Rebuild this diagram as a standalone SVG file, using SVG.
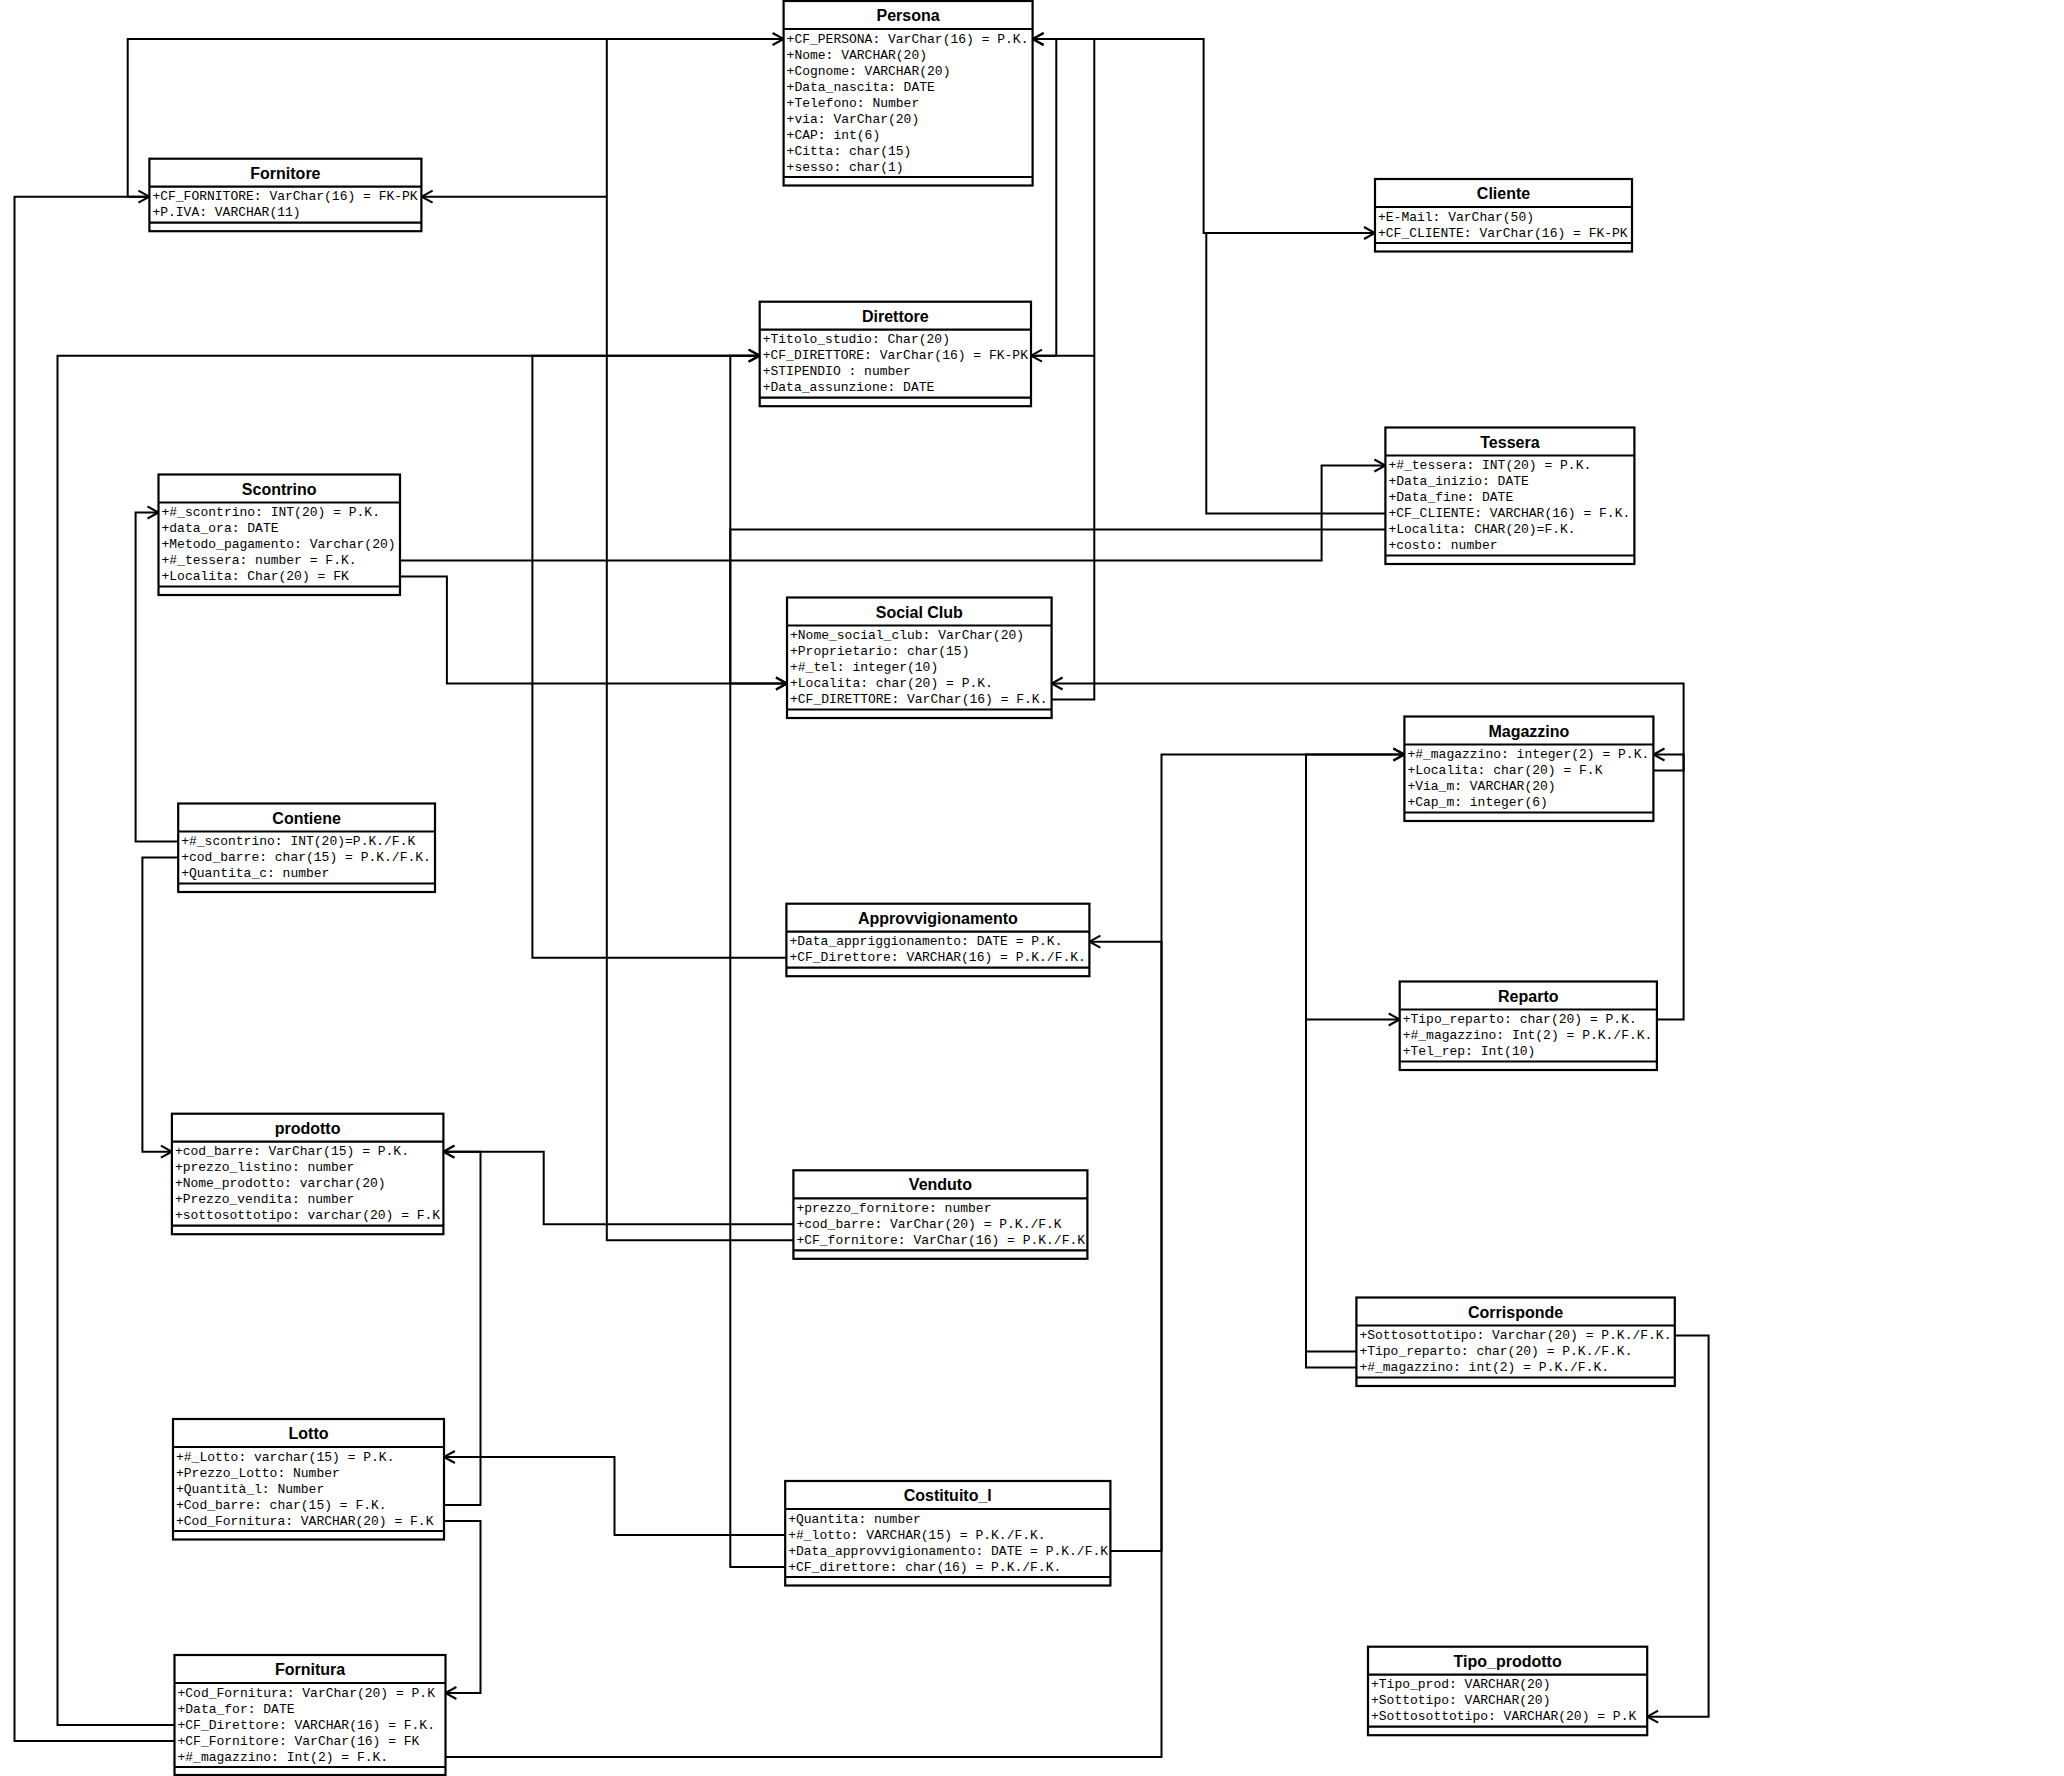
<svg xmlns="http://www.w3.org/2000/svg" width="2064" height="1776" viewBox="0 0 2064 1776">
<style>
.bg{fill:#fff}
.box{fill:#fff;stroke:#000;stroke-width:2.2}
.sep{stroke:#000;stroke-width:2.2}
.t{font-family:"Liberation Sans",Arial,sans-serif;font-weight:bold;font-size:16px;text-anchor:middle;dominant-baseline:central;fill:#000}
.a{font-family:"Liberation Mono","Courier New",monospace;font-size:13px;dominant-baseline:central;fill:#000}
.c{fill:none;stroke:#000;stroke-width:2}
</style>
<defs>
<marker id="arr" markerUnits="userSpaceOnUse" markerWidth="14" markerHeight="14" refX="11" refY="6" orient="auto" overflow="visible">
<path d="M0,0 L11,6 L0,12" fill="none" stroke="#000" stroke-width="2"/>
</marker>
</defs>
<rect class="bg" x="0" y="0" width="2064" height="1776"/>

<g id="connectors">
<path class="c" d="M149.4,196.7 H127.7 V39 H783.6" marker-end="url(#arr)"/>
<path class="c" d="M174.5,1741 H14.5 V196.7 H149.4" marker-end="url(#arr)"/>
<path class="c" d="M793.4,1240.3 H606.8 V196.7 H421.6" marker-end="url(#arr)"/>
<path class="c" d="M606.8,196.7 V39"/>
<path class="c" d="M174.5,1725 H57.5 V355.7 H759.7" marker-end="url(#arr)"/>
<path class="c" d="M786.4,957.7 H532.4 V355.7 H759.7" marker-end="url(#arr)"/>
<path class="c" d="M785.2,1567 H730.3 V355.7 H759.7" marker-end="url(#arr)"/>
<path class="c" d="M1385.4,529.5 H730.3 V683.5 H787" marker-end="url(#arr)"/>
<path class="c" d="M400,576.5 H446.9 V683.5 H787" marker-end="url(#arr)"/>
<path class="c" d="M400,560.5 H1321.6 V465.5 H1385.4" marker-end="url(#arr)"/>
<path class="c" d="M178.2,841.5 H135.6 V512.5 H158.5" marker-end="url(#arr)"/>
<path class="c" d="M178.2,857.5 H142.4 V1151.7 H171.9" marker-end="url(#arr)"/>
<path class="c" d="M793.4,1224.3 H543.7 V1151.7 H443.4" marker-end="url(#arr)"/>
<path class="c" d="M443.9,1505 H480.5 V1151.7 H443.4" marker-end="url(#arr)"/>
<path class="c" d="M443.9,1521 H480.5 V1693 H445.4" marker-end="url(#arr)"/>
<path class="c" d="M785.2,1535 H614.5 V1457 H443.9" marker-end="url(#arr)"/>
<path class="c" d="M1110.4,1551 H1161.5 V941.7 H1089.4" marker-end="url(#arr)"/>
<path class="c" d="M445.4,1757 H1161.5 V754.5 H1404.4" marker-end="url(#arr)"/>
<path class="c" d="M1356.4,1367.5 H1306 V754.5 H1404.4" marker-end="url(#arr)"/>
<path class="c" d="M1356.4,1351.5 H1306 V1019.5 H1399.7" marker-end="url(#arr)"/>
<path class="c" d="M1656.9,1019.5 H1683.6 V754.5 H1653.5" marker-end="url(#arr)"/>
<path class="c" d="M1653.5,770.5 H1683.6 V683.5 H1051.6" marker-end="url(#arr)"/>
<path class="c" d="M1674.8,1335.5 H1708.6 V1716.7 H1647.2" marker-end="url(#arr)"/>
<path class="c" d="M1051.6,699.5 H1094.3 V355.7 H1031" marker-end="url(#arr)"/>
<path class="c" d="M1094.3,355.7 V39 H1056.3"/>
<path class="c" d="M1031,355.7 H1056.3 V39 H1032.6" marker-end="url(#arr)"/>
<path class="c" d="M1375,233 H1203.6 V39 H1032.6" marker-end="url(#arr)"/>
<path class="c" d="M1385.4,513.5 H1206.3 V233 H1375" marker-end="url(#arr)"/>
</g>

<g id="persona" transform="translate(783.6,1)">
<rect class="box" width="249" height="184.5"/>
<line class="sep" x1="0" y1="28" x2="249" y2="28"/>
<line class="sep" x1="0" y1="176" x2="249" y2="176"/>
<text class="t" x="124.5" y="14.5">Persona</text>
<text class="a" x="3" y="38">+CF_PERSONA: VarChar(16) = P.K.</text>
<text class="a" x="3" y="54">+Nome: VARCHAR(20)</text>
<text class="a" x="3" y="70">+Cognome: VARCHAR(20)</text>
<text class="a" x="3" y="86">+Data_nascita: DATE</text>
<text class="a" x="3" y="102">+Telefono: Number</text>
<text class="a" x="3" y="118">+via: VarChar(20)</text>
<text class="a" x="3" y="134">+CAP: int(6)</text>
<text class="a" x="3" y="150">+Citta: char(15)</text>
<text class="a" x="3" y="166">+sesso: char(1)</text>
</g>

<g id="fornitore" transform="translate(149.4,158.7)">
<rect class="box" width="272" height="72.5"/>
<line class="sep" x1="0" y1="28" x2="272" y2="28"/>
<line class="sep" x1="0" y1="64" x2="272" y2="64"/>
<text class="t" x="136" y="14.5">Fornitore</text>
<text class="a" x="3" y="38">+CF_FORNITORE: VarChar(16) = FK-PK</text>
<text class="a" x="3" y="54">+P.IVA: VARCHAR(11)</text>
</g>

<g id="direttore" transform="translate(759.7,301.7)">
<rect class="box" width="271.3" height="104.5"/>
<line class="sep" x1="0" y1="28" x2="271.3" y2="28"/>
<line class="sep" x1="0" y1="96" x2="271.3" y2="96"/>
<text class="t" x="135.6" y="14.5">Direttore</text>
<text class="a" x="3" y="38">+Titolo_studio: Char(20)</text>
<text class="a" x="3" y="54">+CF_DIRETTORE: VarChar(16) = FK-PK</text>
<text class="a" x="3" y="70">+STIPENDIO : number</text>
<text class="a" x="3" y="86">+Data_assunzione: DATE</text>
</g>

<g id="cliente" transform="translate(1375,179)">
<rect class="box" width="257" height="72.5"/>
<line class="sep" x1="0" y1="28" x2="257" y2="28"/>
<line class="sep" x1="0" y1="64" x2="257" y2="64"/>
<text class="t" x="128.5" y="14.5">Cliente</text>
<text class="a" x="3" y="38">+E-Mail: VarChar(50)</text>
<text class="a" x="3" y="54">+CF_CLIENTE: VarChar(16) = FK-PK</text>
</g>

<g id="tessera" transform="translate(1385.4,427.5)">
<rect class="box" width="249" height="136.5"/>
<line class="sep" x1="0" y1="28" x2="249" y2="28"/>
<line class="sep" x1="0" y1="128" x2="249" y2="128"/>
<text class="t" x="124.5" y="14.5">Tessera</text>
<text class="a" x="3" y="38">+#_tessera: INT(20) = P.K.</text>
<text class="a" x="3" y="54">+Data_inizio: DATE</text>
<text class="a" x="3" y="70">+Data_fine: DATE</text>
<text class="a" x="3" y="86">+CF_CLIENTE: VARCHAR(16) = F.K.</text>
<text class="a" x="3" y="102">+Localita: CHAR(20)=F.K.</text>
<text class="a" x="3" y="118">+costo: number</text>
</g>

<g id="scontrino" transform="translate(158.5,474.5)">
<rect class="box" width="241.5" height="120.5"/>
<line class="sep" x1="0" y1="28" x2="241.5" y2="28"/>
<line class="sep" x1="0" y1="112" x2="241.5" y2="112"/>
<text class="t" x="120.7" y="14.5">Scontrino</text>
<text class="a" x="3" y="38">+#_scontrino: INT(20) = P.K.</text>
<text class="a" x="3" y="54">+data_ora: DATE</text>
<text class="a" x="3" y="70">+Metodo_pagamento: Varchar(20)</text>
<text class="a" x="3" y="86">+#_tessera: number = F.K.</text>
<text class="a" x="3" y="102">+Localita: Char(20) = FK</text>
</g>

<g id="social-club" transform="translate(787,597.5)">
<rect class="box" width="264.6" height="120.5"/>
<line class="sep" x1="0" y1="28" x2="264.6" y2="28"/>
<line class="sep" x1="0" y1="112" x2="264.6" y2="112"/>
<text class="t" x="132.3" y="14.5">Social Club</text>
<text class="a" x="3" y="38">+Nome_social_club: VarChar(20)</text>
<text class="a" x="3" y="54">+Proprietario: char(15)</text>
<text class="a" x="3" y="70">+#_tel: integer(10)</text>
<text class="a" x="3" y="86">+Localita: char(20) = P.K.</text>
<text class="a" x="3" y="102">+CF_DIRETTORE: VarChar(16) = F.K.</text>
</g>

<g id="magazzino" transform="translate(1404.4,716.5)">
<rect class="box" width="249" height="104.5"/>
<line class="sep" x1="0" y1="28" x2="249" y2="28"/>
<line class="sep" x1="0" y1="96" x2="249" y2="96"/>
<text class="t" x="124.5" y="14.5">Magazzino</text>
<text class="a" x="3" y="38">+#_magazzino: integer(2) = P.K.</text>
<text class="a" x="3" y="54">+Localita: char(20) = F.K</text>
<text class="a" x="3" y="70">+Via_m: VARCHAR(20)</text>
<text class="a" x="3" y="86">+Cap_m: integer(6)</text>
</g>

<g id="contiene" transform="translate(178.2,803.5)">
<rect class="box" width="256.8" height="88.5"/>
<line class="sep" x1="0" y1="28" x2="256.8" y2="28"/>
<line class="sep" x1="0" y1="80" x2="256.8" y2="80"/>
<text class="t" x="128.4" y="14.5">Contiene</text>
<text class="a" x="3" y="38">+#_scontrino: INT(20)=P.K./F.K</text>
<text class="a" x="3" y="54">+cod_barre: char(15) = P.K./F.K.</text>
<text class="a" x="3" y="70">+Quantita_c: number</text>
</g>

<g id="approvvigionamento" transform="translate(786.4,903.7)">
<rect class="box" width="303" height="72.5"/>
<line class="sep" x1="0" y1="28" x2="303" y2="28"/>
<line class="sep" x1="0" y1="64" x2="303" y2="64"/>
<text class="t" x="151.5" y="14.5">Approvvigionamento</text>
<text class="a" x="3" y="38">+Data_appriggionamento: DATE = P.K.</text>
<text class="a" x="3" y="54">+CF_Direttore: VARCHAR(16) = P.K./F.K.</text>
</g>

<g id="reparto" transform="translate(1399.7,981.5)">
<rect class="box" width="257.2" height="88.5"/>
<line class="sep" x1="0" y1="28" x2="257.2" y2="28"/>
<line class="sep" x1="0" y1="80" x2="257.2" y2="80"/>
<text class="t" x="128.6" y="14.5">Reparto</text>
<text class="a" x="3" y="38">+Tipo_reparto: char(20) = P.K.</text>
<text class="a" x="3" y="54">+#_magazzino: Int(2) = P.K./F.K.</text>
<text class="a" x="3" y="70">+Tel_rep: Int(10)</text>
</g>

<g id="prodotto" transform="translate(171.9,1113.7)">
<rect class="box" width="271.5" height="120.5"/>
<line class="sep" x1="0" y1="28" x2="271.5" y2="28"/>
<line class="sep" x1="0" y1="112" x2="271.5" y2="112"/>
<text class="t" x="135.7" y="14.5">prodotto</text>
<text class="a" x="3" y="38">+cod_barre: VarChar(15) = P.K.</text>
<text class="a" x="3" y="54">+prezzo_listino: number</text>
<text class="a" x="3" y="70">+Nome_prodotto: varchar(20)</text>
<text class="a" x="3" y="86">+Prezzo_vendita: number</text>
<text class="a" x="3" y="102">+sottosottotipo: varchar(20) = F.K</text>
</g>

<g id="venduto" transform="translate(793.4,1170.3)">
<rect class="box" width="294" height="88.5"/>
<line class="sep" x1="0" y1="28" x2="294" y2="28"/>
<line class="sep" x1="0" y1="80" x2="294" y2="80"/>
<text class="t" x="147" y="14.5">Venduto</text>
<text class="a" x="3" y="38">+prezzo_fornitore: number</text>
<text class="a" x="3" y="54">+cod_barre: VarChar(20) = P.K./F.K</text>
<text class="a" x="3" y="70">+CF_fornitore: VarChar(16) = P.K./F.K</text>
</g>

<g id="corrisponde" transform="translate(1356.4,1297.5)">
<rect class="box" width="318.4" height="88.5"/>
<line class="sep" x1="0" y1="28" x2="318.4" y2="28"/>
<line class="sep" x1="0" y1="80" x2="318.4" y2="80"/>
<text class="t" x="159.2" y="14.5">Corrisponde</text>
<text class="a" x="3" y="38">+Sottosottotipo: Varchar(20) = P.K./F.K.</text>
<text class="a" x="3" y="54">+Tipo_reparto: char(20) = P.K./F.K.</text>
<text class="a" x="3" y="70">+#_magazzino: int(2) = P.K./F.K.</text>
</g>

<g id="lotto" transform="translate(173,1419)">
<rect class="box" width="271" height="120.5"/>
<line class="sep" x1="0" y1="28" x2="271" y2="28"/>
<line class="sep" x1="0" y1="112" x2="271" y2="112"/>
<text class="t" x="135.5" y="14.5">Lotto</text>
<text class="a" x="3" y="38">+#_Lotto: varchar(15) = P.K.</text>
<text class="a" x="3" y="54">+Prezzo_Lotto: Number</text>
<text class="a" x="3" y="70">+Quantità_l: Number</text>
<text class="a" x="3" y="86">+Cod_barre: char(15) = F.K.</text>
<text class="a" x="3" y="102">+Cod_Fornitura: VARCHAR(20) = F.K</text>
</g>

<g id="costituito-l" transform="translate(785.2,1481)">
<rect class="box" width="325.2" height="104.5"/>
<line class="sep" x1="0" y1="28" x2="325.2" y2="28"/>
<line class="sep" x1="0" y1="96" x2="325.2" y2="96"/>
<text class="t" x="162.6" y="14.5">Costituito_l</text>
<text class="a" x="3" y="38">+Quantita: number</text>
<text class="a" x="3" y="54">+#_lotto: VARCHAR(15) = P.K./F.K.</text>
<text class="a" x="3" y="70">+Data_approvvigionamento: DATE = P.K./F.K</text>
<text class="a" x="3" y="86">+CF_direttore: char(16) = P.K./F.K.</text>
</g>

<g id="fornitura" transform="translate(174.5,1655)">
<rect class="box" width="271" height="120"/>
<line class="sep" x1="0" y1="28" x2="271" y2="28"/>
<line class="sep" x1="0" y1="112" x2="271" y2="112"/>
<text class="t" x="135.5" y="14.5">Fornitura</text>
<text class="a" x="3" y="38">+Cod_Fornitura: VarChar(20) = P.K</text>
<text class="a" x="3" y="54">+Data_for: DATE</text>
<text class="a" x="3" y="70">+CF_Direttore: VARCHAR(16) = F.K.</text>
<text class="a" x="3" y="86">+CF_Fornitore: VarChar(16) = FK</text>
<text class="a" x="3" y="102">+#_magazzino: Int(2) = F.K.</text>
</g>

<g id="tipo-prodotto" transform="translate(1368,1646.7)">
<rect class="box" width="279.2" height="88.5"/>
<line class="sep" x1="0" y1="28" x2="279.2" y2="28"/>
<line class="sep" x1="0" y1="80" x2="279.2" y2="80"/>
<text class="t" x="139.6" y="14.5">Tipo_prodotto</text>
<text class="a" x="3" y="38">+Tipo_prod: VARCHAR(20)</text>
<text class="a" x="3" y="54">+Sottotipo: VARCHAR(20)</text>
<text class="a" x="3" y="70">+Sottosottotipo: VARCHAR(20) = P.K</text>
</g>
</svg>
